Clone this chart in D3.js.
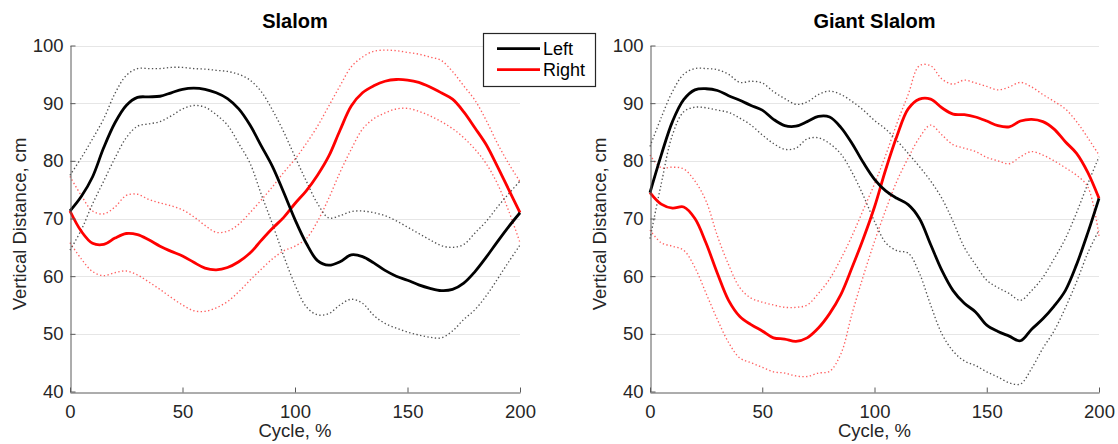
<!DOCTYPE html>
<html>
<head>
<meta charset="utf-8">
<script src="https://cdn.jsdelivr.net/npm/d3@7/dist/d3.min.js"></script>
<style>
  html, body { margin: 0; padding: 0; background: #fff; }
  svg { display: block; font-family: "Liberation Sans", Arial, Helvetica, sans-serif; }
</style>
</head>
<body>
<svg id="chart" width="1118" height="444"></svg>
<script>
// ---------------- DATA ----------------
const cycle = d3.range(0, 201, 5); // 0..200 step 5 (x values, %)
const xTicks = [0, 50, 100, 150, 200];
const yTicks = [40, 50, 60, 70, 80, 90, 100];
const panelTitles = ["Slalom", "Giant Slalom"];
const legendLabels = ["Left", "Right"];

// Slalom
const slalomLeftMean  = [71.3,73.8,77.2,82.3,86.6,89.6,91,91.1,91.2,91.8,92.4,92.6,92.4,91.8,90.8,89,86.2,82.6,79,74.5,69.8,65.7,62.7,61.9,62.5,63.7,63.4,62.3,61,60,59.3,58.5,57.9,57.5,57.7,58.8,60.8,63.3,66,68.6,71];
const slalomLeftUpper = [77.5,80.5,83.8,87.3,91.7,94.8,96,96,96,96.2,96.2,96,95.9,95.7,95.5,95,94,92,88.8,85,80.7,76.5,72.6,70.1,70.5,71.2,71.3,71,70.5,69.6,68.5,67.4,66.3,65.3,65,65.5,67.5,69.5,72,74.3,76.5];
const slalomLeftLower = [64.5,68,72.5,76.5,80.5,84,86,86.4,86.8,87.8,89,89.6,89.3,88,86.2,83,79.6,74.2,69,63.5,58.5,54.7,53.3,53.5,55,56,55.3,53.2,51.8,51,50.3,49.8,49.4,49.3,50.5,52.5,54.2,56.6,59.5,62.5,65.4];
const slalomRightMean  = [71.3,67.8,65.7,65.5,66.6,67.4,67.2,66.3,65.2,64.3,63.5,62.4,61.4,61.1,61.5,62.5,64,66.2,68.3,70.2,72.6,74.8,77.5,80.8,85.3,89.5,91.8,93,93.8,94.1,94,93.6,92.8,91.8,90.7,88.5,85.7,82.8,79,75,71];
const slalomRightUpper = [77.3,74,71.3,70.8,72,74,74.2,73.3,72.7,72.2,71.5,70.3,68.8,67.6,67.8,69,71,73.2,75.5,78,80.3,83,86,89.5,93,96.3,98,99,99.2,99.1,98.8,98.5,98,97.4,95.5,93,90.5,87,83,79.5,76.4];
const slalomRightLower = [65.8,63,60.8,60.1,60.6,60.9,60.2,59,57.7,56.3,55,54,53.9,54.5,55.6,57.3,59.3,61.2,63,64.4,65.2,66.5,69.5,73.5,78,82,85.5,87.3,88.3,89,89.1,88.6,87.8,86.8,85.6,84,82,79.5,76,71.3,65.8];

// Giant Slalom
const giantLeftMean  = [74.5,81,86.8,90.6,92.3,92.5,92.2,91.3,90.5,89.6,88.8,87.2,86.1,86,86.8,87.7,87.6,85.8,83,79.7,76.8,74.8,73.5,72.4,70,65.5,61,57.5,55.3,53.8,51.5,50.4,49.6,48.8,50.8,52.6,54.8,57.5,62,67.5,73.5];
const giantLeftUpper = [82.5,87.5,92,95,96,96,95.8,95,93.6,93.8,93.5,92,90.8,89.8,90.2,91.5,92.1,91.5,90.3,88.8,87,85.5,83.5,81.3,79,76.5,73.5,69.5,65,62,59.3,58,57,55.8,57.5,59.8,63,66.5,71,76,80.7];
const giantLeftLower = [66.5,76,84.5,88.5,89.3,89.2,88.8,88.4,87.4,86.2,84.5,83,82,82.2,83.8,84,83,81.2,78,74,69.5,65.8,64.4,64,60.5,55,50,47,45.3,44.5,43.4,42.5,41.5,41.3,44,47.5,50.5,54.5,59,64,68];
const giantRightMean  = [74.5,72.5,71.8,72,70,65.7,60.5,55.8,53,51.6,50.5,49.3,49.1,48.7,49.3,51,53.5,56.8,61.5,66.5,72,78.5,84.3,89,90.7,90.7,89.2,88.1,88,87.6,86.9,86.1,85.9,86.9,87.2,86.8,85.5,83.3,81.3,78,73.5];
const giantRightUpper = [81,78.8,78.9,78.6,76.5,73,67,62,58,56.2,55.5,55,54.6,54.6,55,57,59.5,63,67,71.5,76,81,86.5,91.5,96.5,96.5,94.2,93.3,94,93.5,92.9,92.3,92.8,93.6,92.8,91.5,90.3,89,86.8,84,81];
const giantRightLower = [68,65.8,65.2,64.5,61.5,57,52.5,48.5,45.8,45,44.2,43.4,43.2,42.7,42.6,43.2,43.5,46.5,53.5,60,66,71.5,76.5,80.5,84,86.2,84.5,82.8,82.2,81.6,80.6,80,79.5,80.7,81.6,81,80,78.8,77.5,75.5,67];

// ---------------- DRAW ----------------
const svg = d3.select("#chart");
const textColor = "#262626";
const axisColor = "#5a5a5a";
const fontSize = 18.5;

const panels = [
  { title: panelTitles[0], x0: 70, x1: 520, ylabX: 26,
    series: [
      { vals: slalomRightUpper, kind: "band", color: "red" },
      { vals: slalomRightLower, kind: "band", color: "red" },
      { vals: slalomLeftUpper, kind: "band", color: "black" },
      { vals: slalomLeftLower, kind: "band", color: "black" },
      { vals: slalomRightMean, kind: "mean", color: "red" },
      { vals: slalomLeftMean, kind: "mean", color: "black" }
    ] },
  { title: panelTitles[1], x0: 650, x1: 1099, ylabX: 606,
    series: [
      { vals: giantRightUpper, kind: "band", color: "red" },
      { vals: giantRightLower, kind: "band", color: "red" },
      { vals: giantLeftUpper, kind: "band", color: "black" },
      { vals: giantLeftLower, kind: "band", color: "black" },
      { vals: giantRightMean, kind: "mean", color: "red" },
      { vals: giantLeftMean, kind: "mean", color: "black" }
    ] }
];

const yTop = 45.5, yBot = 391.5;

panels.forEach(p => {
  const x = d3.scaleLinear().domain([0, 200]).range([p.x0, p.x1]);
  const y = d3.scaleLinear().domain([40, 100]).range([yBot, yTop]);
  const g = svg.append("g");

  // gridlines
  g.append("g").selectAll("line").data(yTicks.filter(t => t > 40)).join("line")
    .attr("x1", p.x0).attr("x2", p.x1)
    .attr("y1", d => Math.round(y(d)) + 0.5).attr("y2", d => Math.round(y(d)) + 0.5)
    .attr("stroke", "#e6e6e6").attr("stroke-width", 1);

  // lines
  const line = d3.line()
    .x((d, i) => x(cycle[i]))
    .y(d => y(d))
    .curve(d3.curveCatmullRom.alpha(0.5));

  p.series.forEach(s => {
    const path = g.append("path")
      .datum(s.vals)
      .attr("fill", "none")
      .attr("d", line);
    if (s.kind === "band") {
      path.attr("stroke", s.color === "red" ? "#ff2a2a" : "#333")
        .attr("stroke-width", 1.35)
        .attr("stroke-dasharray", "1.35,2.4")
        .attr("stroke-opacity", s.color === "red" ? 0.75 : 0.85);
    } else {
      path.attr("stroke", s.color === "red" ? "#ff0000" : "#000")
        .attr("stroke-width", 2.8)
        .attr("stroke-linejoin", "round");
    }
  });

  // axes
  const xAxis = d3.axisBottom(x).tickValues(xTicks).tickSizeInner(-5).tickSizeOuter(0).tickPadding(12);
  const yAxis = d3.axisLeft(y).tickValues(yTicks).tickSizeInner(-5).tickSizeOuter(0).tickPadding(7);

  const gx = g.append("g").attr("transform", `translate(0,${Math.round(yBot) + 0.5})`).call(xAxis);
  const gy = g.append("g").attr("transform", `translate(${p.x0 + 0.5},0)`).call(yAxis);
  [gx, gy].forEach(ax => {
    ax.select(".domain").attr("stroke", axisColor).attr("stroke-width", 1);
    ax.selectAll(".tick line").attr("stroke", axisColor).attr("stroke-width", 1);
    ax.selectAll(".tick text").attr("fill", textColor)
      .style("font-size", fontSize + "px")
      .style("font-family", '"Liberation Sans", Arial, Helvetica, sans-serif');
  });

  // title
  g.append("text")
    .attr("x", (p.x0 + p.x1) / 2).attr("y", 28)
    .attr("text-anchor", "middle")
    .attr("fill", "#000")
    .style("font-size", "20px").style("font-weight", "bold")
    .text(p.title);

  // x label
  g.append("text")
    .attr("x", (p.x0 + p.x1) / 2).attr("y", 437)
    .attr("text-anchor", "middle")
    .attr("fill", textColor)
    .style("font-size", fontSize + "px")
    .text("Cycle, %");

  // y label
  g.append("text")
    .attr("transform", `translate(${p.ylabX},224) rotate(-90)`)
    .attr("text-anchor", "middle")
    .attr("fill", textColor)
    .style("font-size", fontSize + "px")
    .text("Vertical Distance, cm");
});

// legend
const lg = svg.append("g");
lg.append("rect")
  .attr("x", 483.5).attr("y", 33.5).attr("width", 112).attr("height", 53)
  .attr("fill", "#fff").attr("stroke", textColor).attr("stroke-width", 1.2);
const legendColors = ["#000", "#ff0000"];
legendLabels.forEach((lab, i) => {
  const yy = 48.7 + i * 21;
  lg.append("line").attr("x1", 497).attr("x2", 540).attr("y1", yy).attr("y2", yy)
    .attr("stroke", legendColors[i]).attr("stroke-width", 2.8);
  lg.append("text").attr("x", 543).attr("y", yy + 6.5)
    .attr("fill", "#000")
    .style("font-size", "18px")
    .text(lab);
});
</script>
</body>
</html>
